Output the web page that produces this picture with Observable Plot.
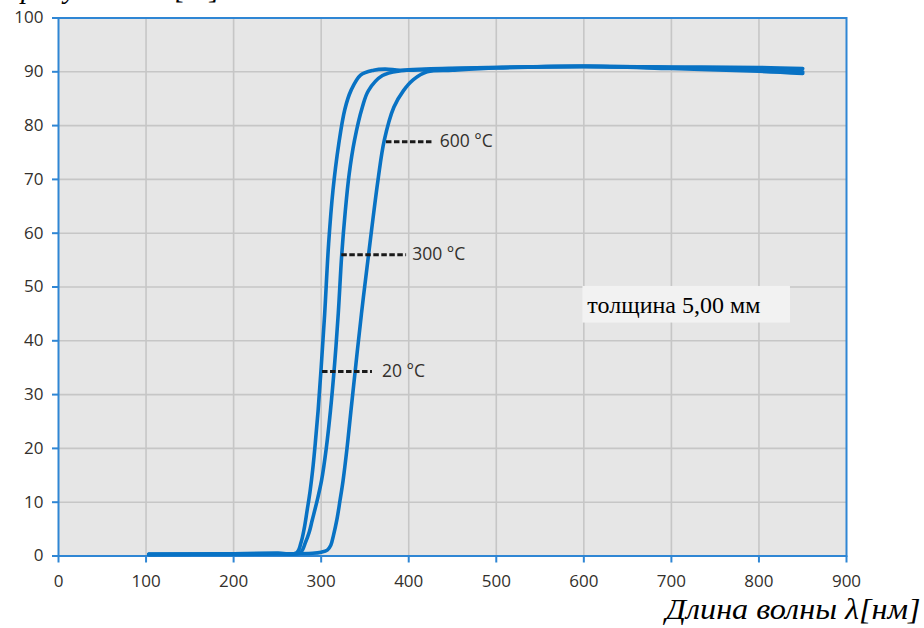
<!DOCTYPE html>
<html>
<head>
<meta charset="utf-8">
<script src="https://cdn.jsdelivr.net/npm/d3@7"></script>
<script src="https://cdn.jsdelivr.net/npm/@observablehq/plot@0.6"></script>
<style>
  html, body { margin: 0; padding: 0; background: #ffffff; }
  #chart { width: 924px; height: 628px; overflow: hidden; }
</style>
</head>
<body>
<div id="chart"></div>
<script>
// ---- data ----
const xTicks = [0, 100, 200, 300, 400, 500, 600, 700, 800, 900];
const yTicks = [0, 10, 20, 30, 40, 50, 60, 70, 80, 90, 100];

// 20 °C curve
const nm20 = [103, 200, 250, 272, 277, 280.5, 284, 287.3, 290.3, 293.3, 296.5, 300, 304, 308.5, 313.5, 320, 327, 334, 345, 360, 373, 390, 420, 500, 600, 700, 800, 850];
const t20  = [0.3, 0.4, 0.5, 0.6, 2.5, 5.0, 8.5, 12, 16, 21, 27, 35, 45, 58, 68, 76.5, 83.0, 86.5, 89.4, 90.3, 90.5, 90.3, 90.4, 90.8, 91.0, 90.9, 90.8, 90.6];
// 300 °C curve
const nm300 = [103, 200, 250, 276, 282, 286.5, 289.7, 295.4, 300.4, 305.8, 310.6, 315.5, 319.5, 323.5, 327.5, 332, 338, 347, 354, 370, 391, 420, 500, 600, 700, 800, 850];
const t300  = [0.3, 0.4, 0.5, 0.6, 2.5, 4.5, 6.6, 10.3, 14, 20, 27, 36, 45, 56, 64, 71, 77.2, 83.4, 86.5, 89.3, 90.2, 90.5, 90.8, 91.0, 90.8, 90.4, 90.0];
// 600 °C curve
const nm600 = [103, 200, 250, 290, 300, 307, 311, 314, 318, 321.5, 325, 329.5, 334, 346, 357.5, 365, 372, 383, 394, 405, 421, 450, 500, 600, 700, 800, 850];
const t600  = [0.3, 0.3, 0.4, 0.5, 0.7, 1.1, 2.0, 3.8, 6.8, 10.3, 14, 20, 27, 45, 60.5, 70, 77.2, 83.4, 86.5, 88.5, 90.0, 90.3, 90.7, 91.0, 90.6, 90.1, 89.7];

// curve labels
const labelText = ["20 °C", "300 °C", "600 °C"];
const labelY    = [34.3, 56.0, 77.0];
const leaderX1  = [301, 323, 374];
const leaderX2  = [358, 397, 428];
const labelX    = [369.5, 404, 435.5];

// thickness box
const noteText = "толщина 5,00 мм";
const noteBox = {x1: 599, x2: 836, y1: 43.3, y2: 50.1};
const noteAt = {x: 604, y: 46.6};

const xTitle = "Длина волны λ[нм]";
const yTitle = "Пропускание τ[%]";

// ---- build ----
const toPts = (xs, ys) => xs.map((x, i) => ({x, y: ys[i]}));
const series = [toPts(nm20, t20), toPts(nm300, t300), toPts(nm600, t600)];
const labels = labelText.map((t, i) => ({t, y: labelY[i], x1: leaderX1[i], x2: leaderX2[i], x: labelX[i]}));

const BLUE_AXIS = "#2f86d4";
const BLUE_LINE = "#0872c4";
const TXT = "#33302c";
const SERIF = "'Liberation Serif', 'Times New Roman', serif";

const chart = Plot.plot({
  width: 924,
  height: 628,
  marginLeft: 58,
  marginRight: 78,
  marginTop: 17.5,
  marginBottom: 72.5,
  style: {background: "transparent", fontFamily: "'Open Sans', sans-serif", overflow: "visible"},
  x: {domain: [0, 900]},
  y: {domain: [0, 100]},
  marks: [
    Plot.frame({fill: "#e6e6e6", stroke: null}),
    Plot.gridX(xTicks.slice(1, -1), {stroke: "#c6c6c6", strokeOpacity: 1, strokeWidth: 1.6}),
    Plot.gridY(yTicks.slice(1, -1), {stroke: "#c6c6c6", strokeOpacity: 1, strokeWidth: 1.6}),
    Plot.frame({stroke: BLUE_AXIS, strokeWidth: 2}),
    Plot.axisX(xTicks, {stroke: BLUE_AXIS, strokeWidth: 2, fill: TXT, tickSize: 7, tickPadding: 12, fontSize: 17, label: null}),
    Plot.axisY(yTicks, {stroke: BLUE_AXIS, strokeWidth: 2, fill: TXT, tickSize: 6, tickPadding: 9, fontSize: 17, label: null}),
    ...series.map(s => Plot.line(s, {x: "x", y: "y", stroke: BLUE_LINE, strokeWidth: 3.6, curve: "catmull-rom"})),
    Plot.link(labels, {x1: "x1", x2: "x2", y1: "y", y2: "y", stroke: "#1a1a1a", strokeWidth: 3, strokeDasharray: "5.5,2.5"}),
    Plot.text(labels, {x: "x", y: "y", text: "t", textAnchor: "start", fill: TXT, fontSize: 17.5}),
    Plot.rect([noteBox], {x1: "x1", x2: "x2", y1: "y1", y2: "y2", fill: "#f2f2f2"}),
    Plot.text([noteAt], {x: "x", y: "y", text: [noteText], textAnchor: "start", fill: "#000", fontSize: 23, fontFamily: SERIF, className: "note-text"}),
    Plot.text([xTitle], {frameAnchor: "bottom-right", dx: 74, dy: 63, lineAnchor: "bottom", textAnchor: "end", fill: "#000", fontSize: 29, fontStyle: "italic", fontFamily: SERIF, className: "x-title"}),
    Plot.text([yTitle], {frameAnchor: "top-left", dx: -58, dy: -20.5, lineAnchor: "bottom", textAnchor: "start", fill: "#000", fontSize: 29, fontStyle: "italic", fontFamily: SERIF, className: "y-title"})
  ]
});
// stretch the serif texts to the widths seen in the reference
d3.select(chart).select(".x-title text").attr("textLength", 255).attr("lengthAdjust", "spacingAndGlyphs");
d3.select(chart).select(".note-text text").attr("textLength", 173).attr("lengthAdjust", "spacingAndGlyphs");
d3.select(chart).select(".y-title text").attr("textLength", 220).attr("lengthAdjust", "spacingAndGlyphs");
document.getElementById("chart").appendChild(chart);
</script>
</body>
</html>
